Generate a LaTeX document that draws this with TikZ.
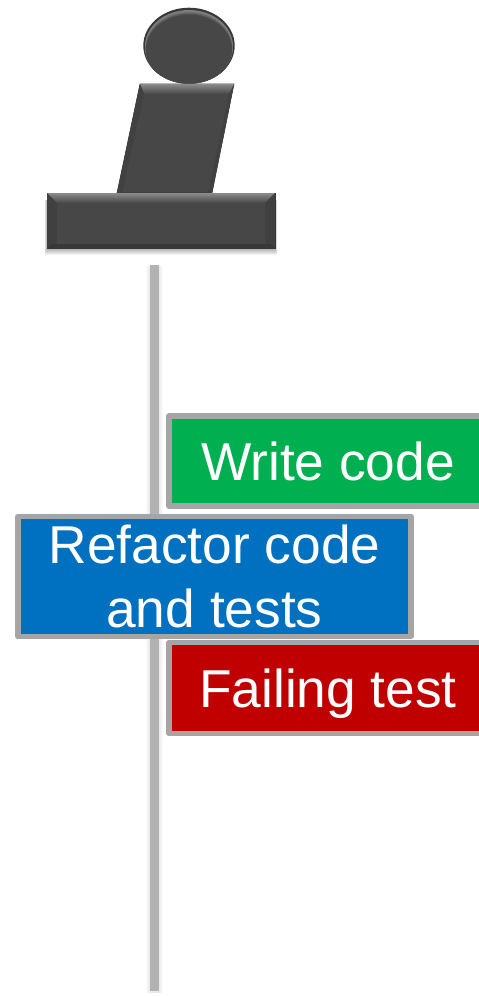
\documentclass[tikz,border=0pt]{standalone}
\usepackage{fontspec}
\setmainfont{Liberation Sans}
\usepackage{xcolor}
\usetikzlibrary{calc}
\definecolor{figfill}{HTML}{474747}
\definecolor{figrim}{HTML}{8C8C8C}
\definecolor{figedge}{HTML}{383838}
\definecolor{lifecolor}{HTML}{B2B2B2}
\definecolor{boxedge}{HTML}{A5A5A5}
\definecolor{wgreen}{HTML}{00B050}
\definecolor{rblue}{HTML}{0070C0}
\definecolor{fred}{HTML}{C00000}
\tikzstyle{stepbox}=[draw=boxedge,line width=5.3pt,line join=round,text=white,inner sep=0pt,align=center,font=\fontsize{53.3}{64}\selectfont]
\tikzstyle{oneline}=[text height=38pt,text depth=0pt]
\tikzstyle{figpart}=[fill=figfill,draw=figedge,line width=.6pt,line join=miter]
\tikzstyle{rim}=[top color=figrim,bottom color=figfill,draw=none]
\tikzstyle{life}=[draw=lifecolor,line width=9pt]
\begin{document}
\begin{tikzpicture}[x=1pt,y=-1pt]
	\useasboundingbox (0,0) rectangle (479,996);
	\fill[white] (0,0) rectangle (479,996);
	\coordinate (lifetop) at (154,265);
	\coordinate (lifebot) at (154,991);
	\foreach \w in {17,15,13,11}
		\draw[black,opacity=.02,line width=\w pt] ($(lifetop)+(0,1)$) -- ($(lifebot)+(0,2)$);
	\draw[life] (lifetop) -- (lifebot);
	\foreach \s in {1,2,...,6}
		\fill[black,opacity=.05] ($(47,200)+(-\s*.4,0)$) rectangle ($(275,248.5)+(\s*.4,\s)$);
	\draw[figpart] (140,84) -- (234,84) -- (212,193) -- (117,193) -- cycle;
	\shade[rim] (140,84) -- (234,84) -- (229,94) -- (144,94) -- cycle;
	\fill[fill=figfill!92!black] (140,84) -- (144,94) -- (122,193) -- (117,193) -- cycle;
	\fill[fill=figfill!92!black] (234,84) -- (229,94) -- (208,193) -- (212,193) -- cycle;
	\draw[figpart] (47,193) rectangle (275,248.5);
	\shade[rim] (47,193) -- (275,193) -- (265,203) -- (57,203) -- cycle;
	\fill[fill=figfill!90!black] (47,193) -- (57,203) -- (57,244) -- (47,248.5) -- cycle;
	\fill[fill=figfill!90!black] (275,193) -- (265,203) -- (265,244) -- (275,248.5) -- cycle;
	\fill[fill=figedge] (47,248.5) -- (52,244) -- (270,244) -- (275,248.5) -- cycle;
	\begin{scope}
		\clip (189,45.7) ellipse [x radius=45.7,y radius=38];
		\fill[figedge] (189,45.7) circle [radius=50];
		\fill[figrim!80!figfill] (189,46.5) ellipse [x radius=44,y radius=36.5];
		\foreach \p in {20,40,60,80,100}
			\fill[figfill!\p!figrim] (189,{46.5+\p*.035}) ellipse [x radius={44-\p*.01},y radius={36.5-\p*.012}];
	\end{scope}
	\node[stepbox,oneline,fill=wgreen,minimum width=318pt,minimum height=90pt] (writecode) at (328,461) {Write code};
	\node[stepbox,oneline,fill=fred,minimum width=318pt,minimum height=91pt] (failingtest) at (328,688) {Failing test};
	\node[stepbox,fill=rblue,minimum width=393pt,minimum height=120.5pt] (refactor) at (214.5,576.5) {Refactor code\\and tests};
\end{tikzpicture}
\end{document}
